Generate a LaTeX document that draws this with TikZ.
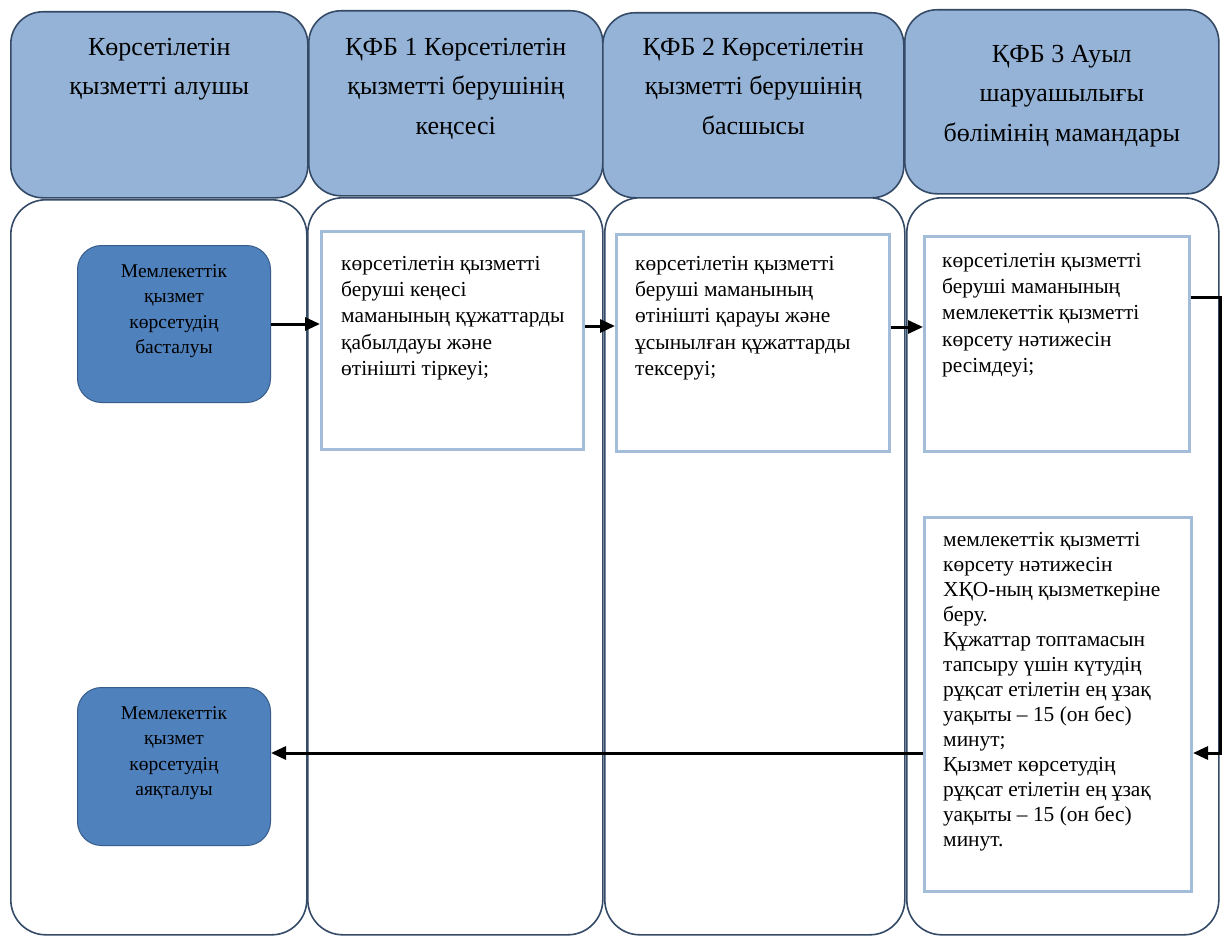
\documentclass[tikz,border=0pt]{standalone}
\usepackage{fontspec}
\setmainfont{Liberation Serif}
\usetikzlibrary{arrows.meta,calc}
\definecolor{hdrfill}{RGB}{149,179,215}
\definecolor{lanedraw}{RGB}{52,74,102}
\definecolor{termfill}{RGB}{79,129,189}
\definecolor{termdraw}{RGB}{56,93,138}
\definecolor{boxdraw}{RGB}{163,188,218}
\begin{document}
\begin{tikzpicture}[x=1pt,y=-1pt,
  hdr/.style={draw=lanedraw,line width=1.6pt,fill=hdrfill,rounded corners=32pt,anchor=north west,inner sep=0pt},
  lane/.style={draw=lanedraw,line width=1.6pt,fill=white,rounded corners=35pt,anchor=north west,inner sep=0pt},
  hdrtext/.style={anchor=north,align=center,inner sep=0pt,font=\fontsize{26}{39.5}\selectfont},
  term/.style={draw=termdraw,line width=1pt,fill=termfill,rounded corners=24pt,anchor=north west,inner sep=0pt},
  termtext/.style={anchor=north,align=center,inner sep=0pt,font=\fontsize{19.5}{25.5}\selectfont},
  stepbox/.style={draw=boxdraw,line width=3pt,fill=white,anchor=north west,inner sep=0pt},
  boxtext/.style={anchor=north west,align=left,inner sep=0pt,font=\fontsize{21.4}{26.3}\selectfont},
  arr/.style={draw=black,line width=3pt,-{Triangle[length=15pt,width=13pt]}},
  conn/.style={draw=black,line width=3pt}
]
\useasboundingbox[fill=white] (0,0) rectangle (1222,936);

% headers
\node[hdr,minimum width=297pt,minimum height=186pt] (h1) at (10,11) {};
\node[hdr,minimum width=294pt,minimum height=185pt] (h2) at (308,10) {};
\node[hdr,minimum width=301pt,minimum height=185pt] (h3) at (602,12) {};
\node[hdr,minimum width=314pt,minimum height=184pt] (h4) at (904,9) {};

% lanes
\node[lane,minimum width=296pt,minimum height=735pt] (l1) at (10,199) {};
\node[lane,minimum width=295pt,minimum height=737pt] (l2) at (307,197) {};
\node[lane,minimum width=300pt,minimum height=737pt] (l3) at (604,197) {};
\node[lane,minimum width=312pt,minimum height=737pt] (l4) at (906,197) {};

% header texts
\node[hdrtext] (t1) at ($(h1.north)+(0,27)$) {Көрсетілетін\\қызметті алушы};
\node[hdrtext] (t2) at ($(h2.north)+(0,28)$) {ҚФБ 1 Көрсетілетін\\қызметті берушінің\\кеңсесі};
\node[hdrtext] (t3) at ($(h3.north)+(0,26)$) {ҚФБ 2 Көрсетілетін\\қызметті берушінің\\басшысы};
\node[hdrtext] (t4) at ($(h4.north)+(0,36)$) {ҚФБ 3 Ауыл\\шаруашылығы\\бөлімінің мамандары};

% terminals
\node[term,minimum width=193pt,minimum height=157pt] (s) at (77,245) {};
\node[termtext] (st) at ($(s.north)+(0,19)$) {Мемлекеттік\\қызмет\\көрсетудің\\басталуы};
\node[term,minimum width=193pt,minimum height=158pt] (e) at (77,687) {};
\node[termtext] (et) at ($(e.north)+(0,19)$) {Мемлекеттік\\қызмет\\көрсетудің\\аяқталуы};

% process boxes
\node[stepbox,minimum width=262pt,minimum height=218pt] (b1) at (320,230) {};
\node[boxtext] (bt1) at ($(b1.north west)+(21,26)$) {көрсетілетін қызметті\\беруші кеңесі\\маманының құжаттарды\\қабылдауы және\\өтінішті тіркеуі;};
\node[stepbox,minimum width=273pt,minimum height=217pt] (b2) at (615,233) {};
\node[boxtext] (bt2) at ($(b2.north west)+(20,23)$) {көрсетілетін қызметті\\беруші маманының\\өтінішті қарауы және\\ұсынылған құжаттарды\\тексеруі;};
\node[stepbox,minimum width=265pt,minimum height=215pt] (b3) at (923,235) {};
\node[boxtext] (bt3) at ($(b3.north west)+(19,18)$) {көрсетілетін қызметті\\беруші маманының\\мемлекеттік қызметті\\көрсету нәтижесін\\ресімдеуі;};
\node[stepbox,minimum width=267pt,minimum height=374pt] (b4) at (923,516) {};
\node[boxtext,font=\fontsize{21.4}{25}\selectfont] (bt4) at ($(b4.north west)+(20,16)$) {мемлекеттік қызметті\\көрсету нәтижесін\\ХҚО-ның қызметкеріне\\беру.\\Құжаттар топтамасын\\тапсыру үшін күтудің\\рұқсат етілетін ең ұзақ\\уақыты – 15 (он бес)\\минут;\\Қызмет көрсетудің\\рұқсат етілетін ең ұзақ\\уақыты – 15 (он бес)\\минут.};

% connectors
\coordinate (turnA) at (1220,297);
\coordinate (turnB) at (1220,753);
\draw[arr] (s.east) -- (b1.west |- s.east);
\draw[arr] (b1.east |- 0,326) -- (b2.west |- 0,326);
\draw[arr] (b2.east |- 0,327) -- (b3.west |- 0,327);
\draw[arr] (b3.east |- turnA) -- (turnA) -- (turnB) -- (b4.east |- turnB);
\draw[arr] (b4.west |- turnB) -- (e.east |- turnB);
\end{tikzpicture}
\end{document}
